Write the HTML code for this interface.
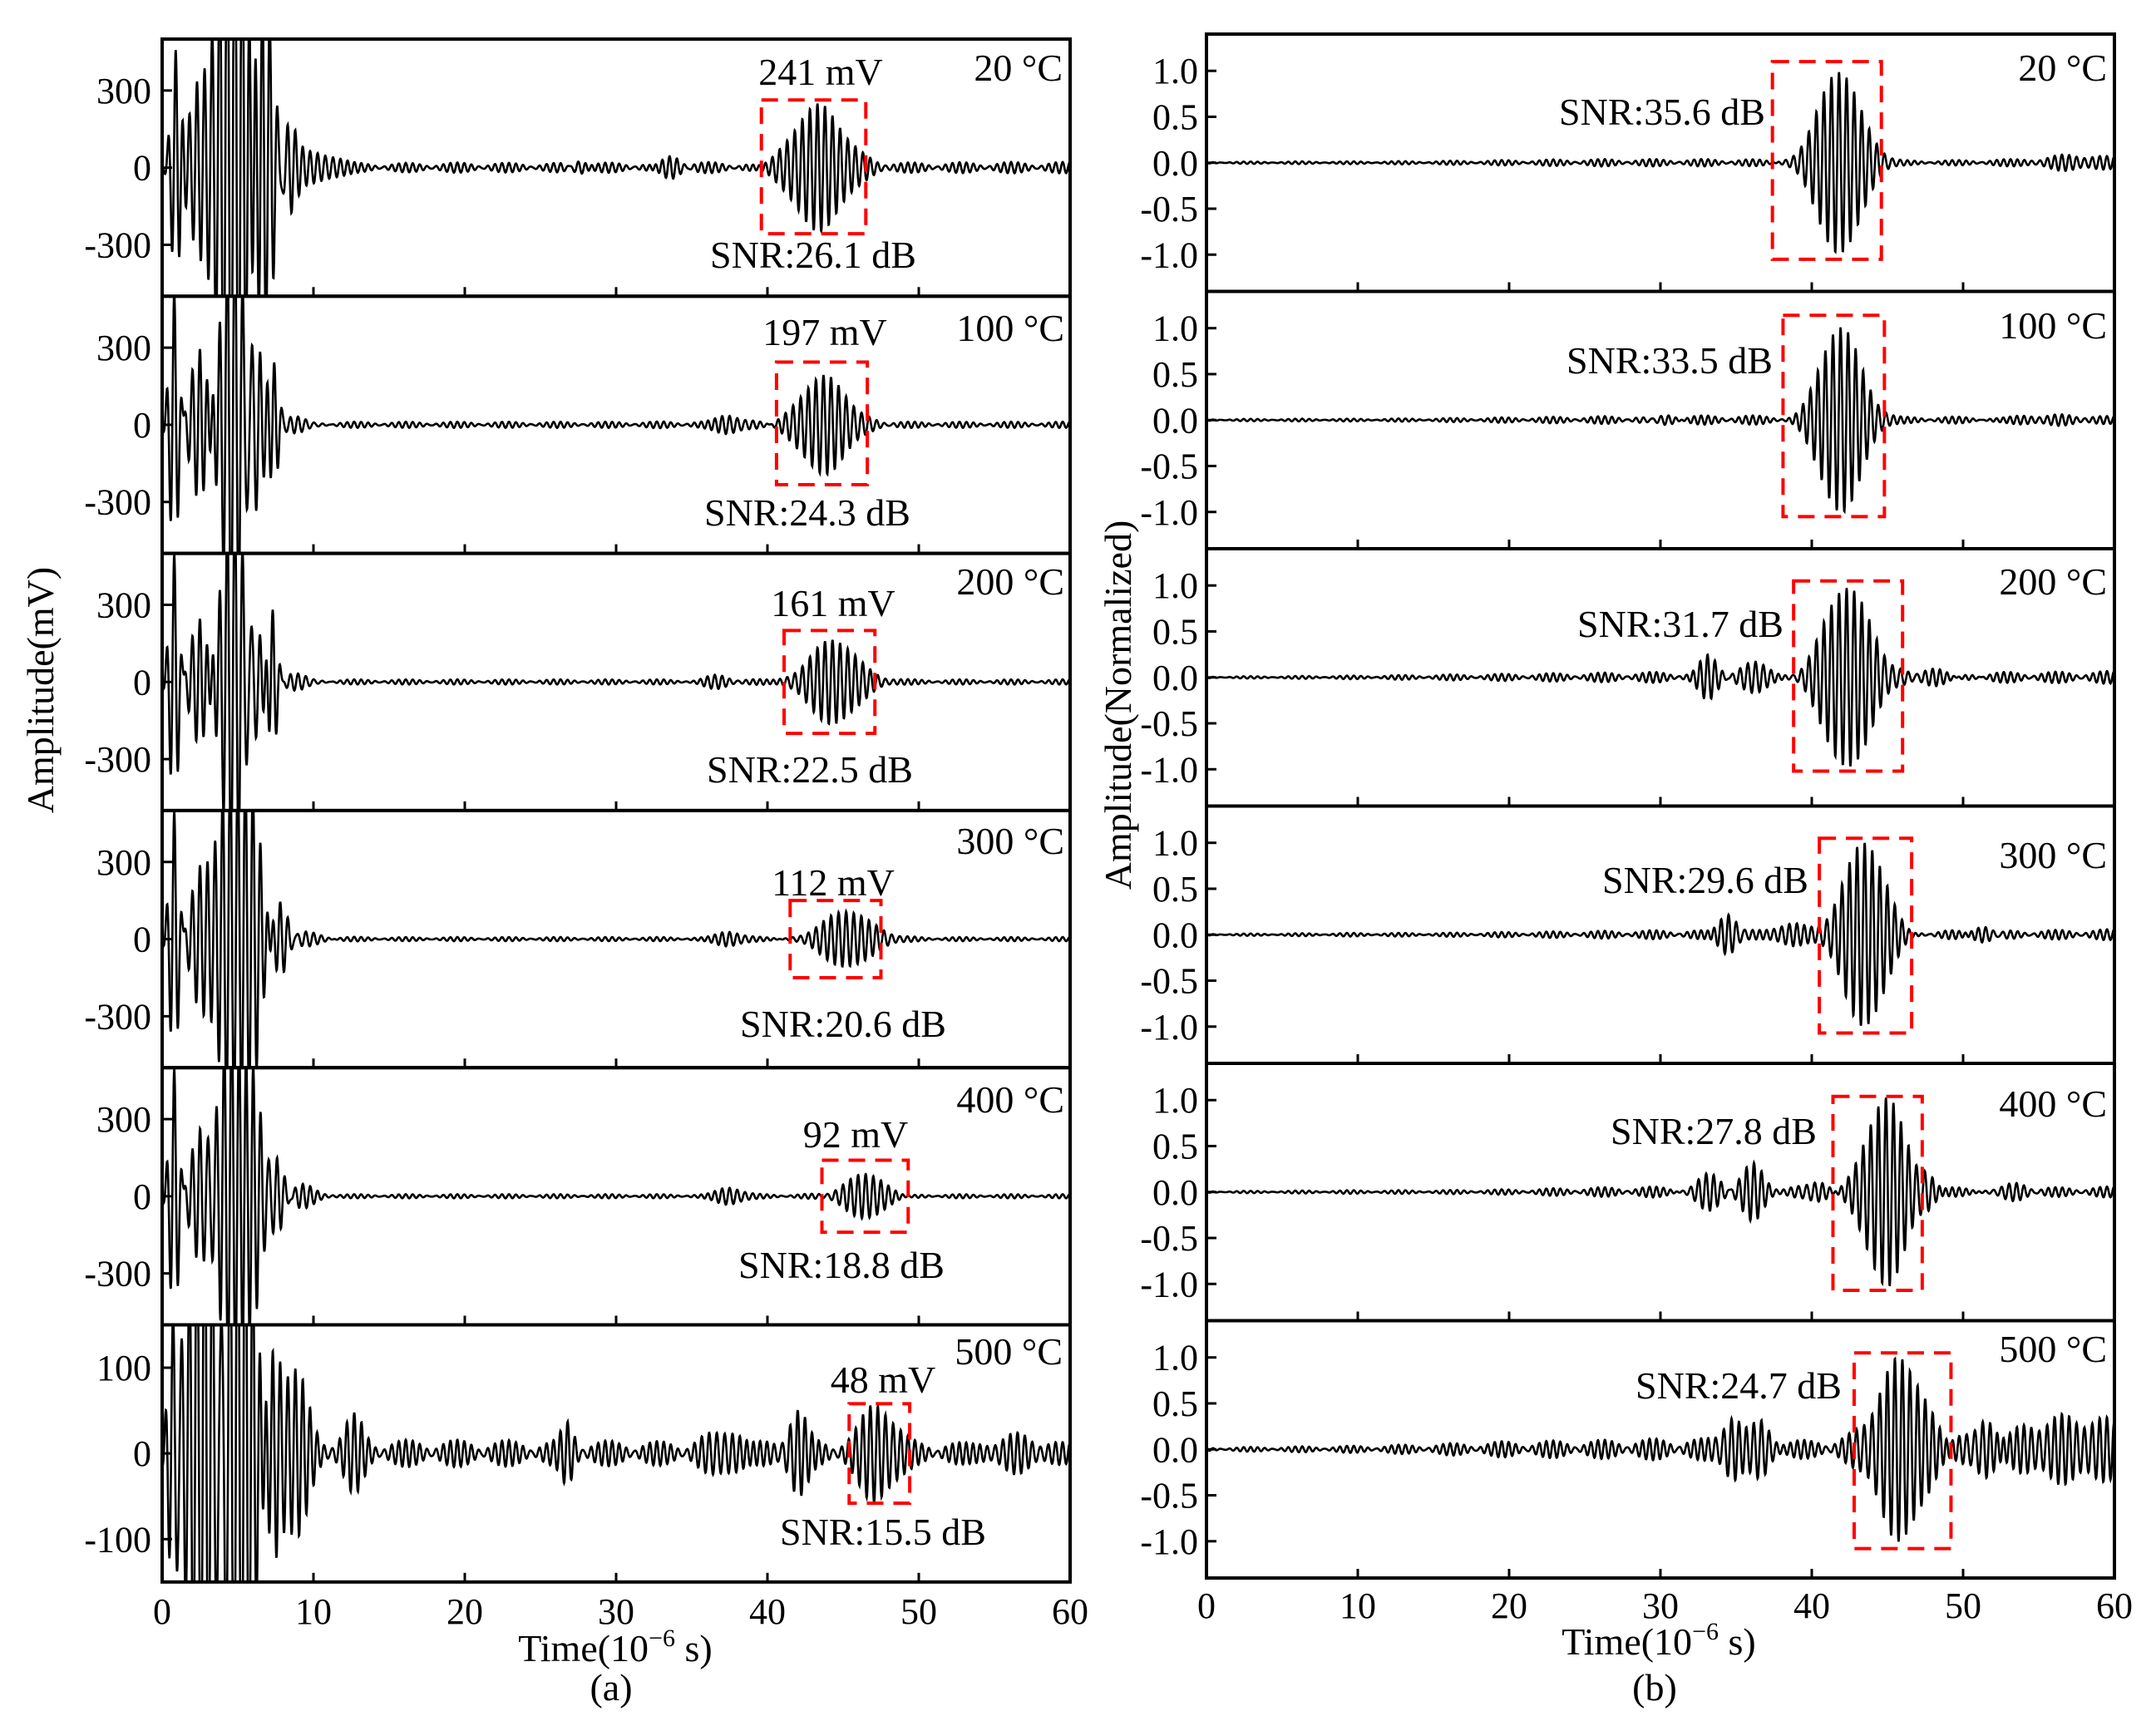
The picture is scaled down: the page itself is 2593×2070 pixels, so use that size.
<!DOCTYPE html>
<html><head><meta charset="utf-8">
<style>
html,body{margin:0;padding:0;background:#fff;}
svg{display:block;font-family:"Liberation Serif",serif;}
</style></head>
<body>
<svg id="chart" width="2593" height="2070" viewBox="0 0 2593 2070"></svg>
<script>
// ---------- DATA ----------
const tempLabels = ["20 °C","100 °C","200 °C","300 °C","400 °C","500 °C"];
const leftPeakLabels = ["241 mV","197 mV","161 mV","112 mV","92 mV","48 mV"];
const leftSnrLabels = ["SNR:26.1 dB","SNR:24.3 dB","SNR:22.5 dB","SNR:20.6 dB","SNR:18.8 dB","SNR:15.5 dB"];
const rightSnrLabels = ["SNR:35.6 dB","SNR:33.5 dB","SNR:31.7 dB","SNR:29.6 dB","SNR:27.8 dB","SNR:24.7 dB"];
const xTicks = [0,10,20,30,40,50,60];
const leftYTicks = [[300,0,-300],[300,0,-300],[300,0,-300],[300,0,-300],[300,0,-300],[100,0,-100]];
const leftYRange = [500,500,500,500,500,150];
const rightYTicks = [1.0,0.5,0.0,-0.5,-1.0];
const rightYTickLabels = ["1.0","0.5","0.0","-0.5","-1.0"];
const rightYRange = 1.4;

// wave packets (centre µs, amplitude, width µs)
const leftPacketT = [
 [0.9,2.3,4.8,6.6,8.3,10.3,27.5,33.5,43.3],
 [0.8,2.5,4.8,6.0,7.4,9.0,37.5,43.7],
 [0.8,2.5,4.8,6.0,7.3,9.0,36.5,44.3],
 [0.8,2.5,4.5,6.0,7.8,9.5,37.5,45.2],
 [0.8,2.5,4.6,6.0,7.6,9.3,37.5,46.5],
 [0.7,2.8,5.0,7.3,8.8,12.7,26.8,37.2,42.0,47.3,56.0]
];
const leftPacketA = [
 [450,280,1400,900,180,50,30,40,241],
 [520,300,900,500,230,40,30,197],
 [500,250,800,350,300,40,20,161],
 [500,250,700,500,150,40,25,112],
 [500,250,750,450,150,40,30,92],
 [150,400,450,120,80,30,25,28,38,48,15]
];
const leftPacketW = [
 [0.3,0.6,1.0,0.7,0.5,1.2,0.5,0.7,1.6],
 [0.3,0.6,0.8,0.6,0.3,0.8,0.8,1.5],
 [0.3,0.6,0.8,0.6,0.3,0.8,0.8,1.5],
 [0.3,0.6,0.8,0.6,0.5,0.8,0.8,1.6],
 [0.3,0.6,0.8,0.6,0.5,0.8,0.8,1.2],
 [0.3,1.0,1.0,0.5,0.8,0.6,0.4,1.0,0.6,1.0,1.5]
];
// noise envelope sampled every 5 µs (0..60)
const leftNoise = [
 [0,30,22,18,20,18,20,22,20,20,20,22,22],
 [0,15,12,12,12,12,12,14,14,14,12,12,12],
 [0,14,10,10,10,10,10,10,12,12,10,10,10],
 [0,16,10,8,8,8,8,8,8,8,8,8,8],
 [0,14,8,8,8,8,8,8,8,10,8,8,8],
 [0,30,20,16,16,15,15,14,16,18,14,14,12]
];
const rightPacketT = [
 [41.8,57.0],
 [30.0,41.9,55.0],
 [33.1,36.3,42.3,48.0],
 [34.5,38.5,43.5,51.5],
 [33.0,36.2,40.2,44.9,47.5,53.0],
 [34.7,36.7,46.0,51.3,54.5,58.0]
];
const rightPacketA = [
 [1.0,0.05],
 [0.08,1.0,0.04],
 [0.2,0.22,1.0,0.1],
 [0.22,0.1,1.0,0.1],
 [0.22,0.3,0.15,1.0,0.2,0.1],
 [0.3,0.33,1.0,0.28,0.2,0.2]
];
const rightPacketW = [
 [1.4,2.0],
 [0.8,1.3,2.0],
 [0.6,0.8,1.5,1.5],
 [0.6,0.8,1.3,0.8],
 [0.8,0.7,0.8,1.2,0.6,1.0],
 [0.6,0.6,1.5,0.7,1.5,2.0]
];
const rightNoise = [
 [0.01,0.015,0.015,0.02,0.03,0.04,0.04,0.04,0.03,0.02,0.03,0.05,0.05],
 [0.01,0.015,0.015,0.02,0.03,0.04,0.05,0.05,0.05,0.03,0.04,0.04,0.04],
 [0.01,0.015,0.02,0.03,0.04,0.05,0.06,0.06,0.05,0.06,0.06,0.06,0.07],
 [0.01,0.015,0.02,0.02,0.03,0.04,0.05,0.05,0.05,0.06,0.05,0.05,0.06],
 [0.01,0.015,0.02,0.02,0.03,0.05,0.06,0.06,0.06,0.07,0.05,0.05,0.06],
 [0.02,0.03,0.04,0.06,0.09,0.1,0.12,0.12,0.1,0.15,0.18,0.2,0.2]
];
// red boxes (t0,t1,v0,v1)
const leftBoxes = [[39.6,46.5,-257,263],[40.6,46.6,-233,244],[41.1,47.1,-200,200],[41.5,47.5,-150,150],[43.6,49.3,-140,140],[45.4,49.4,-58,58]];
const rightBoxes = [[37.4,44.6,-1.05,1.10],[38.1,44.8,-1.05,1.14],[38.8,46.0,-1.02,1.05],[40.5,46.6,-1.07,1.05],[41.4,47.3,-1.07,1.04],[42.8,49.2,-1.08,1.05]];

// ---------- LAYOUT ----------
const NS="http://www.w3.org/2000/svg";
const svg=document.getElementById('chart');
function mk(tag,attrs,parent){const e=document.createElementNS(NS,tag);for(const k in attrs)e.setAttribute(k,attrs[k]);(parent||svg).appendChild(e);return e;}
const L={x0:195,x1:1287,top:47,h:309.3};
const R={x0:1451,x1:2543,top:41,h:309.5};
const leftPeakPos=[[987,102],[992,415],[1002,741],[1002,1077],[1029,1380],[1062,1675]];
const leftSnrPos=[[978,322],[971,632],[974,941],[1014,1247],[1012,1537],[1062,1858]];
const leftTempPos=[[1278,97],[1280,410],[1280,715],[1280,1027],[1280,1338],[1278,1641]];
const rightSnrPos=[[2123,150],[2132,449],[2145,766],[2175,1074],[2185,1376],[2215,1682]];
const rightTempPos=[[2534,97],[2534,407],[2534,715],[2534,1044],[2534,1343],[2534,1638]];

function signal(t,T,A,W,N){
  let v=0;
  for(let i=0;i<T.length;i++){const d=(t-T[i])/W[i];if(Math.abs(d)<5)v+=A[i]*Math.exp(-0.5*d*d)*Math.cos(2*Math.PI*2.0*(t-T[i]));}
  const k=Math.min(11.999,t/5),i0=Math.floor(k),f=k-i0;
  const env=N[i0]*(1-f)+N[i0+1]*f;
  v+=env*(0.6*Math.cos(2*Math.PI*2.05*t)+0.4*Math.cos(2*Math.PI*2.35*t+1.0));
  return v;
}

function panel(side,idx){
  const P=side==='left'?L:R;
  const top=P.top+idx*P.h, bot=top+P.h, mid=top+P.h/2;
  const range=side==='left'?leftYRange[idx]:rightYRange;
  const xs=t=>P.x0+(P.x1-P.x0)*t/60;
  const ys=v=>mid-v*(P.h/2)/range;
  const g=mk('g',{});
  
  
  const cid='clip-'+side+idx;
  const cp=mk('clipPath',{id:cid},g);
  mk('rect',{x:P.x0,y:top,width:P.x1-P.x0,height:P.h},cp);
  const T=side==='left'?leftPacketT[idx]:rightPacketT[idx];
  const A=side==='left'?leftPacketA[idx]:rightPacketA[idx];
  const W=side==='left'?leftPacketW[idx]:rightPacketW[idx];
  const N=side==='left'?leftNoise[idx]:rightNoise[idx];
  let d='';
  for(let t=0;t<=60.0001;t+=0.02){const v=signal(t,T,A,W,N);let y=ys(v);y=Math.max(top-20,Math.min(bot+20,y));d+=(d?'L':'M')+xs(t).toFixed(1)+','+y.toFixed(1);}
  const path=mk('path',{d:d,fill:'none',stroke:'#000','stroke-width':2.6,'clip-path':'url(#'+cid+')'},g);
  
  
  const B=side==='left'?leftBoxes[idx]:rightBoxes[idx];
  const box=mk('rect',{x:xs(B[0]),y:ys(B[3]),width:xs(B[1])-xs(B[0]),height:ys(B[2])-ys(B[3]),fill:'none',stroke:'#ff0000','stroke-width':4,'stroke-dasharray':'20,12'},g);
  
  
  const fr=mk('rect',{x:P.x0,y:top,width:P.x1-P.x0,height:P.h,fill:'none',stroke:'#000','stroke-width':4},g);
  
  
  for(let i=1;i<xTicks.length-1;i++){mk('line',{x1:xs(xTicks[i]),x2:xs(xTicks[i]),y1:bot,y2:bot-11,stroke:'#000','stroke-width':3},g);}
  const yt=side==='left'?leftYTicks[idx]:rightYTicks;
  for(let i=0;i<yt.length;i++){
    mk('line',{x1:P.x0,x2:P.x0+12,y1:ys(yt[i]),y2:ys(yt[i]),stroke:'#000','stroke-width':3},g);
    const tx=mk('text',{x:side==='left'?182:1441,y:ys(yt[i])+15,'font-size':44,'text-anchor':'end'},g);
    tx.textContent=side==='left'?String(yt[i]):rightYTickLabels[i];
    
    
  }
  const tp=side==='left'?leftTempPos[idx]:rightTempPos[idx];
  const tt=mk('text',{x:tp[0],y:tp[1],'font-size':46,'text-anchor':'end'},g);
  tt.textContent=tempLabels[idx];
  
  
  if(side==='left'){
    const pk=mk('text',{x:leftPeakPos[idx][0],y:leftPeakPos[idx][1],'font-size':46,'text-anchor':'middle'},g);
    pk.textContent=leftPeakLabels[idx];
    
    
    const sn=mk('text',{x:leftSnrPos[idx][0],y:leftSnrPos[idx][1],'font-size':46,'text-anchor':'middle'},g);
    sn.textContent=leftSnrLabels[idx];
    
    
  } else {
    const sn=mk('text',{x:rightSnrPos[idx][0],y:rightSnrPos[idx][1],'font-size':46,'text-anchor':'end'},g);
    sn.textContent=rightSnrLabels[idx];
    
    
  }
  if(idx===5){
    for(let i=0;i<xTicks.length;i++){
      const tx=mk('text',{x:xs(xTicks[i]),y:side==='left'?1953:1946,'font-size':44,'text-anchor':'middle'},g);
      tx.textContent=String(xTicks[i]);
      
      
    }
  }
}
for(let i=0;i<6;i++){panel('left',i);panel('right',i);}

function title(x,y,parts,name,rot){
  const t=mk('text',{x:x,y:y,'font-size':46,'text-anchor':'middle'});
  if(rot)t.setAttribute('transform','rotate(-90 '+x+' '+y+')');
  t.innerHTML=parts;
  
  
}
title(740,1998,'Time(10<tspan dy="-18" font-size="30">−6</tspan><tspan dy="18"> s)</tspan>','left-x-axis-title');
title(1995,1990,'Time(10<tspan dy="-18" font-size="30">−6</tspan><tspan dy="18"> s)</tspan>','right-x-axis-title');
title(735,2045,'(a)','subfigure-a-label');
title(1990,2045,'(b)','subfigure-b-label');
title(64,830,'Amplitude(mV)','left-y-axis-title',true);
title(1360,848,'Amplitude(Normalized)','right-y-axis-title',true);
</script>
</body></html>
